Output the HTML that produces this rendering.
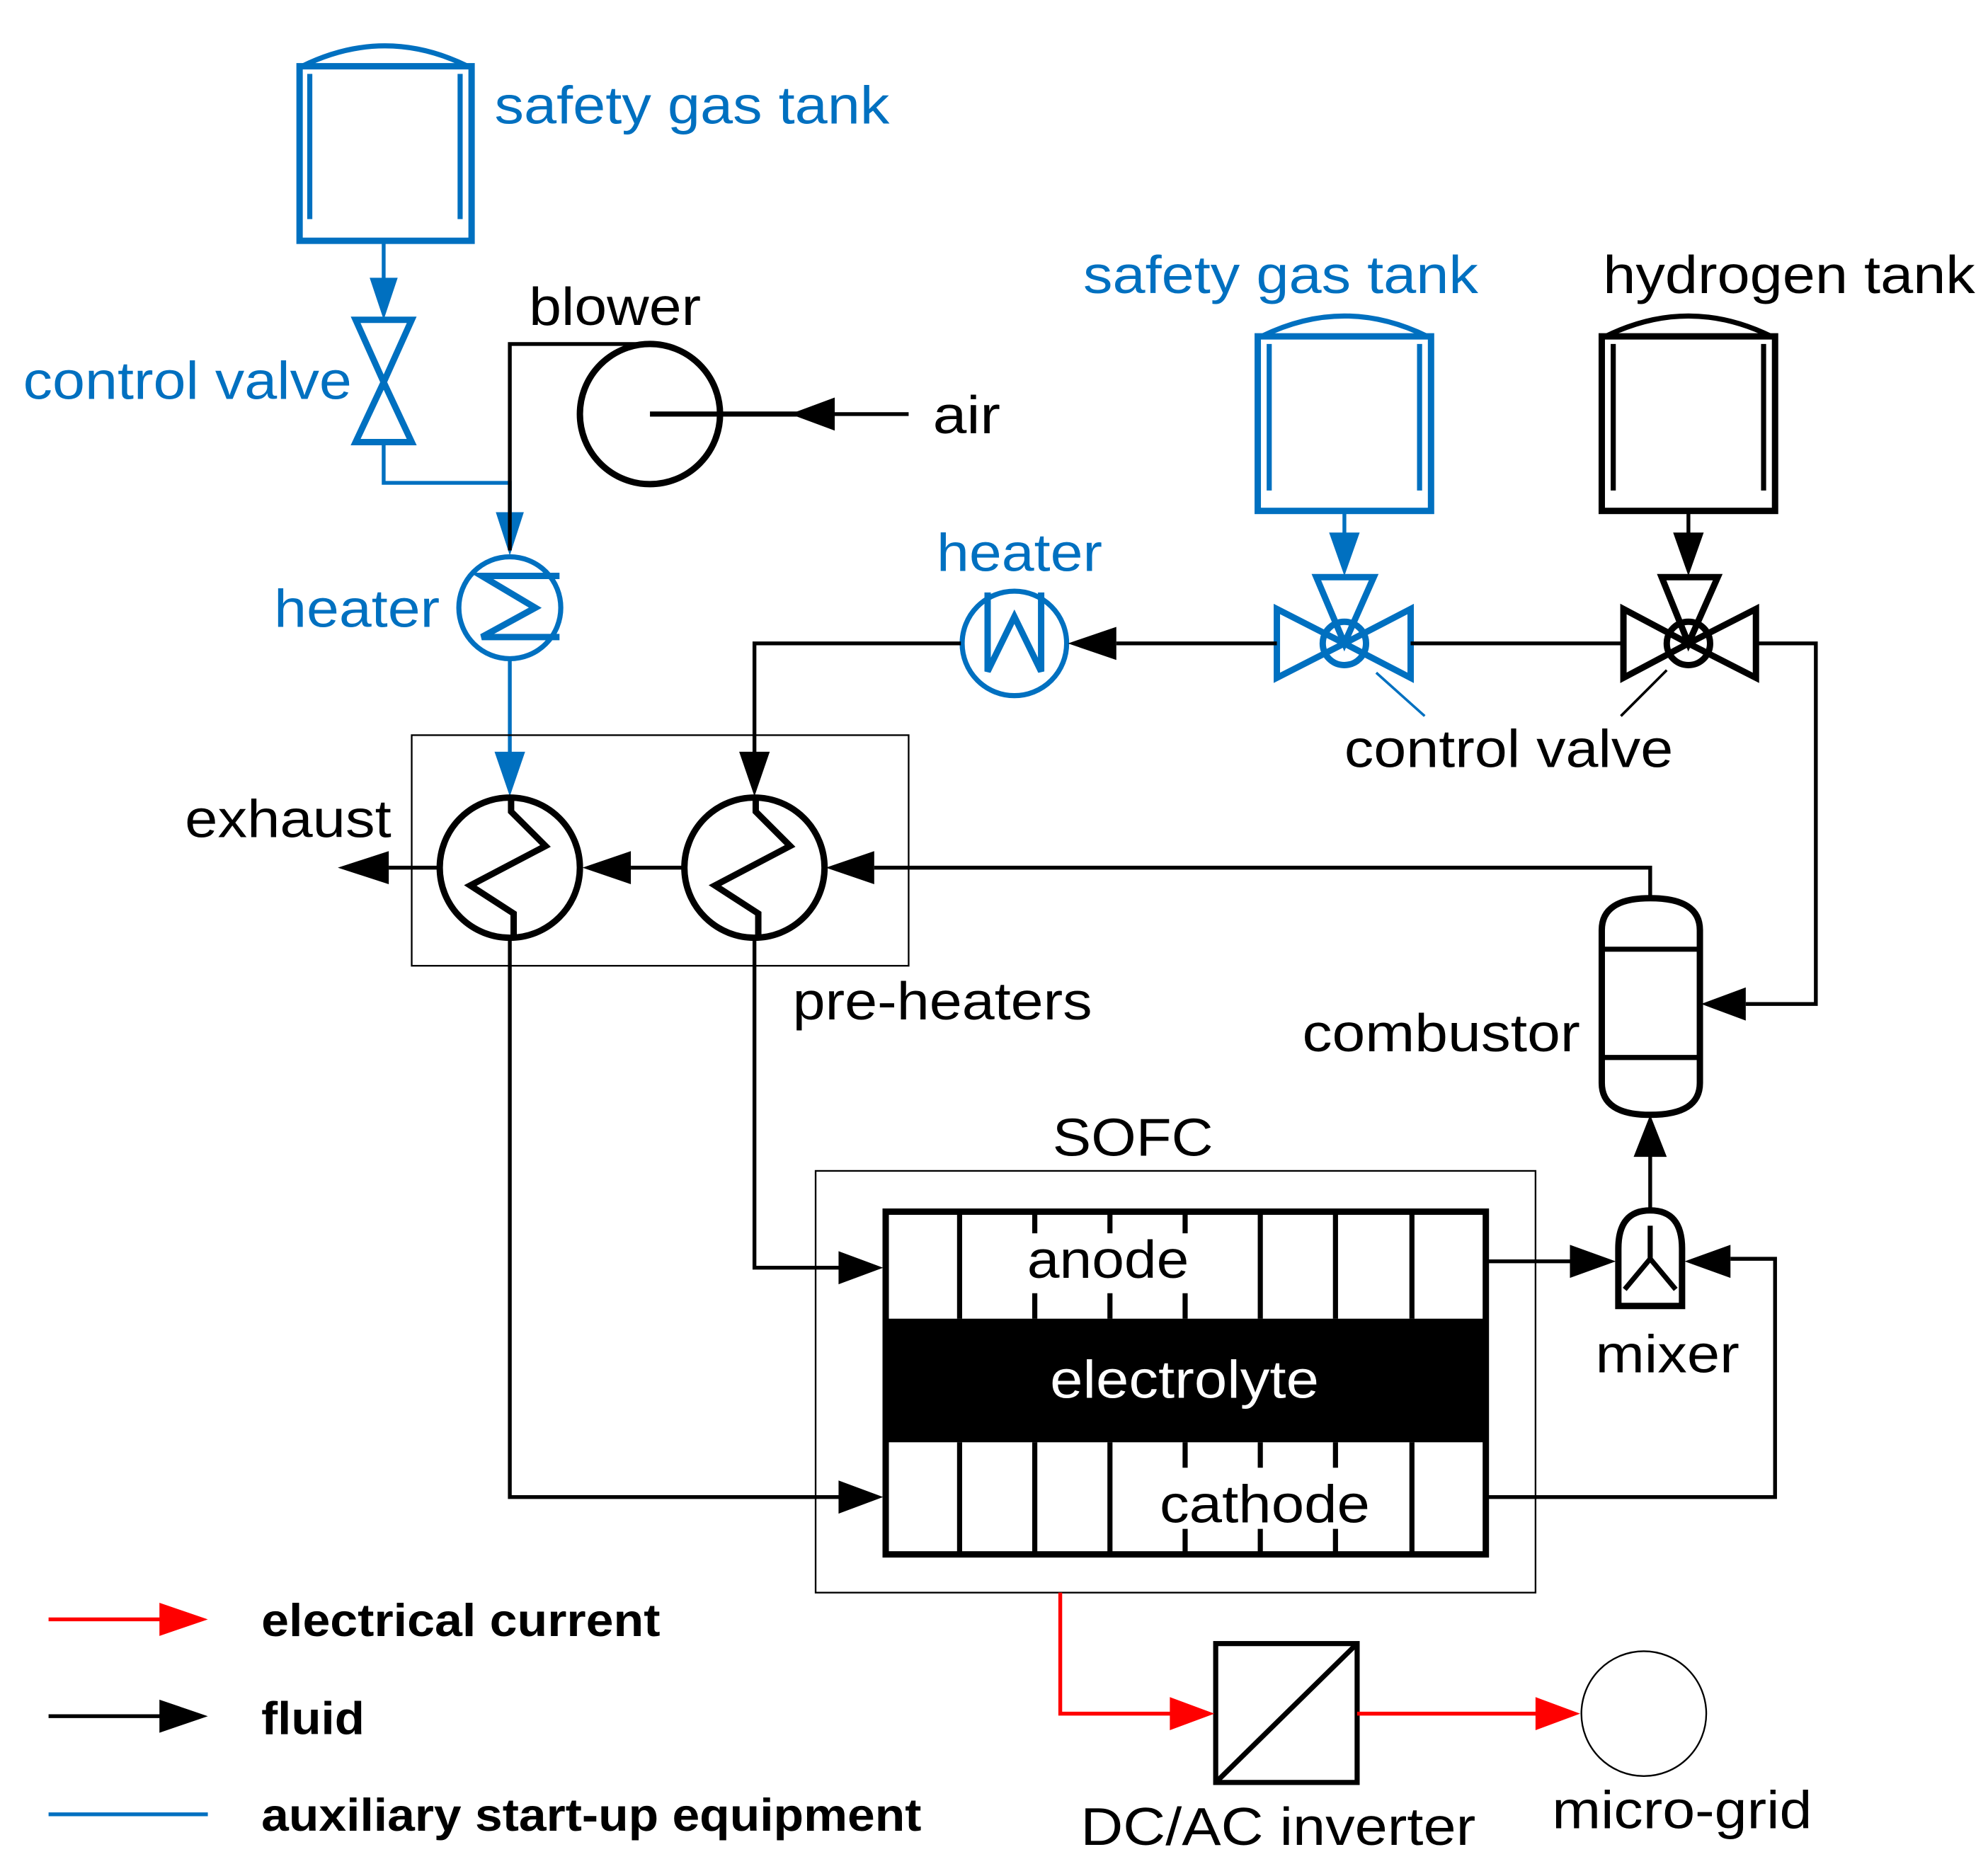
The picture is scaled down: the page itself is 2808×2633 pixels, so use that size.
<!DOCTYPE html>
<html><head><meta charset="utf-8"><style>html,body{margin:0;padding:0;background:#fff}svg{display:block}</style></head>
<body>
<svg xmlns="http://www.w3.org/2000/svg" width="2808" height="2633" viewBox="0 0 1560 1463" font-family="Liberation Sans, Arial, sans-serif">
<rect width="1560" height="1463" fill="#fff"/>
<g fill="none" stroke-linejoin="miter">
<!-- Safety tank 1 -->
<g stroke="#0070c0">
<rect x="235" y="52" width="135" height="137" stroke-width="5"/>
<path d="M237,52 Q302,20 367,52" stroke-width="4"/>
<line x1="243" y1="58" x2="243" y2="172" stroke-width="4"/>
<line x1="361" y1="58" x2="361" y2="172" stroke-width="4"/>
<line x1="301" y1="189" x2="301" y2="220" stroke-width="3"/>
<path d="M279,251 L323,251 L301,300 Z M279,347 L323,347 L301,300 Z" stroke-width="5"/>
<path d="M301,347 L301,379 L400,379 L400,402" stroke-width="3"/>
<circle cx="400" cy="477" r="40" stroke-width="4"/>
<path d="M439,452 L378,452 L420,477 L378,500 L439,500" stroke-width="5"/>
<line x1="400" y1="517" x2="400" y2="592" stroke-width="3"/>
<!-- heater 2 -->
<circle cx="796" cy="505" r="41" stroke-width="4"/>
<path d="M775,465 L775,527 L796,484 L817,527 L817,465" stroke-width="5"/>
<!-- safety tank 2 -->
<rect x="987" y="264" width="136" height="137" stroke-width="5"/>
<path d="M990,264 Q1055,232 1120,264" stroke-width="4"/>
<line x1="996" y1="270" x2="996" y2="385" stroke-width="4"/>
<line x1="1114" y1="270" x2="1114" y2="385" stroke-width="4"/>
<line x1="1055" y1="401" x2="1055" y2="420" stroke-width="3"/>
<path d="M1002,478 L1002,532 L1055,505 Z M1107,478 L1107,532 L1055,505 Z M1033,453 L1078,453 L1055,505 Z" stroke-width="5"/>
<circle cx="1055" cy="505" r="17" stroke-width="5"/>
<line x1="1080" y1="528" x2="1118" y2="562" stroke-width="2"/>
</g>
<g fill="#0070c0">
<polygon points="301,251 290,218 312,218"/>
<polygon points="400,436 389,402 411,402"/>
<polygon points="400,625 388,590 412,590"/>
<polygon points="1055,452 1043,418 1067,418"/>
</g>
<!-- black -->
<g stroke="#000">
<path d="M400,432 L400,270 L510,270" stroke-width="3"/>
<circle cx="510" cy="325" r="55" stroke-width="5"/>
<line x1="510" y1="325" x2="655" y2="325" stroke-width="4"/>
<line x1="655" y1="325" x2="713" y2="325" stroke-width="3"/>
<path d="M754,505 L592,505 L592,595" stroke-width="3"/>
<line x1="876" y1="505" x2="1002" y2="505" stroke-width="3"/>
<line x1="1107" y1="505" x2="1274" y2="505" stroke-width="3"/>
<!-- hydrogen tank -->
<rect x="1257" y="264" width="136" height="137" stroke-width="5"/>
<path d="M1260,264 Q1325,232 1390,264" stroke-width="4"/>
<line x1="1266" y1="270" x2="1266" y2="385" stroke-width="4"/>
<line x1="1384" y1="270" x2="1384" y2="385" stroke-width="4"/>
<line x1="1325" y1="401" x2="1325" y2="420" stroke-width="3"/>
<path d="M1274,478 L1274,532 L1325,505 Z M1378,478 L1378,532 L1325,505 Z M1304,453 L1348,453 L1325,505 Z" stroke-width="5"/>
<circle cx="1325" cy="505" r="17" stroke-width="5"/>
<line x1="1308" y1="526" x2="1272" y2="562" stroke-width="2"/>
<path d="M1378,505 L1425,505 L1425,788 L1370,788" stroke-width="3"/>
<!-- preheater box -->
<rect x="323" y="577" width="390" height="181" stroke-width="1.3"/>
<circle cx="400" cy="681" r="55" stroke-width="5"/>
<circle cx="592" cy="681" r="55" stroke-width="5"/>
<path d="M401,626 L401,637 L428,664 L369,695 L403,717 L403,737" stroke-width="5"/>
<path d="M593,626 L593,637 L620,664 L561,695 L595,717 L595,737" stroke-width="5"/>
<line x1="305" y1="681" x2="345" y2="681" stroke-width="3"/>
<line x1="495" y1="681" x2="537" y2="681" stroke-width="3"/>
<path d="M686,681 L1295,681 L1295,705" stroke-width="3"/>
<path d="M400,737 L400,1175 L660,1175" stroke-width="3"/>
<path d="M592,737 L592,995 L660,995" stroke-width="3"/>
<!-- combustor -->
<path d="M1257,730 Q1257,705 1295,705 Q1334,705 1334,730 L1334,850 Q1334,875 1295,875 Q1257,875 1257,850 Z" stroke-width="5"/>
<line x1="1257" y1="745" x2="1334" y2="745" stroke-width="4"/>
<line x1="1257" y1="830" x2="1334" y2="830" stroke-width="4"/>
<line x1="1295" y1="905" x2="1295" y2="950" stroke-width="3"/>
<!-- mixer -->
<path d="M1270,1025 L1270,980 Q1270,950 1295,950 Q1320,950 1320,980 L1320,1025 Z" stroke-width="5"/>
<path d="M1295,962 L1295,988 L1275,1012 M1295,988 L1315,1012" stroke-width="4"/>
<path d="M1166,990 L1235,990" stroke-width="3"/>
<path d="M1166,1175 L1393,1175 L1393,988 L1358,988" stroke-width="3"/>
<!-- SOFC -->
<rect x="640" y="919" width="565" height="331" stroke-width="1.3"/>
<rect x="695" y="951" width="471" height="269" stroke-width="5"/>
<g stroke-width="4">
<path d="M753,951 V1035 M989,951 V1035 M1048,951 V1035 M1108,951 V1035"/>
<path d="M812,951 V968 M871,951 V968 M930,951 V968 M812,1015 V1035 M871,1015 V1035 M930,1015 V1035"/>
<path d="M753,1132 V1220 M812,1132 V1220 M871,1132 V1220 M1108,1132 V1220"/>
<path d="M930,1132 V1152 M989,1132 V1152 M1048,1132 V1152 M930,1200 V1220 M989,1200 V1220 M1048,1200 V1220"/>
</g>
<line x1="1206" y1="1345" x2="1065" y2="1345"/>
<rect x="954" y="1290" width="111" height="109" stroke-width="4"/>
<line x1="954" y1="1399" x2="1065" y2="1290" stroke-width="4"/>
<circle cx="1290" cy="1345" r="49" stroke-width="1.3"/>
<line x1="38" y1="1347" x2="130" y2="1347" stroke-width="3"/>
</g>
<g stroke="#ff0000" stroke-width="3">
<path d="M832,1250 L832,1345 L920,1345"/>
<line x1="1065" y1="1345" x2="1206" y2="1345"/>
<line x1="38" y1="1271" x2="130" y2="1271"/>
</g>
<line x1="38" y1="1424" x2="163" y2="1424" stroke="#0070c0" stroke-width="3"/>
</g>
<rect x="695" y="1035" width="471" height="97" fill="#000"/>
<g fill="#000">
<polygon points="620,325 655,312 655,338"/>
<polygon points="592,625 580,590 604,590"/>
<polygon points="838,505 876,492 876,518"/>
<polygon points="1325,452 1313,418 1337,418"/>
<polygon points="1335,788 1370,775 1370,801"/>
<polygon points="265,681 305,668 305,694"/>
<polygon points="457,681 495,668 495,694"/>
<polygon points="648,681 686,668 686,694"/>
<polygon points="1295,875 1282,908 1308,908"/>
<polygon points="693,995 658,982 658,1008"/>
<polygon points="693,1175 658,1162 658,1188"/>
<polygon points="1268,990 1232,977 1232,1003"/>
<polygon points="1322,990 1358,977 1358,1003"/>
<polygon points="163,1347 125,1334 125,1360"/>
</g>
<g fill="#ff0000">
<polygon points="953,1345 918,1332 918,1358"/>
<polygon points="1240,1345 1205,1332 1205,1358"/>
<polygon points="163,1271 125,1258 125,1284"/>
</g>
<g font-size="42" fill="#0070c0">
<text x="388" y="97" textLength="310" lengthAdjust="spacingAndGlyphs">safety gas tank</text>
<text x="18" y="313" textLength="258" lengthAdjust="spacingAndGlyphs">control valve</text>
<text x="215" y="492" textLength="130" lengthAdjust="spacingAndGlyphs">heater</text>
<text x="735" y="448" textLength="130" lengthAdjust="spacingAndGlyphs">heater</text>
<text x="850" y="230" textLength="310" lengthAdjust="spacingAndGlyphs">safety gas tank</text>
</g>
<g font-size="42" fill="#000">
<text x="415" y="255" textLength="135" lengthAdjust="spacingAndGlyphs">blower</text>
<text x="732" y="340" textLength="53" lengthAdjust="spacingAndGlyphs">air</text>
<text x="1258" y="230" textLength="292" lengthAdjust="spacingAndGlyphs">hydrogen tank</text>
<text x="1055" y="602" textLength="258" lengthAdjust="spacingAndGlyphs">control valve</text>
<text x="145" y="657" textLength="162" lengthAdjust="spacingAndGlyphs">exhaust</text>
<text x="622" y="800" textLength="235" lengthAdjust="spacingAndGlyphs">pre-heaters</text>
<text x="1022" y="825" textLength="218" lengthAdjust="spacingAndGlyphs">combustor</text>
<text x="826" y="907" textLength="126" lengthAdjust="spacingAndGlyphs">SOFC</text>
<text x="806" y="1003" textLength="127" lengthAdjust="spacingAndGlyphs">anode</text>
<text x="910" y="1195" textLength="165" lengthAdjust="spacingAndGlyphs">cathode</text>
<text x="1252" y="1077" textLength="113" lengthAdjust="spacingAndGlyphs">mixer</text>
<text x="848" y="1448" textLength="310" lengthAdjust="spacingAndGlyphs">DC/AC inverter</text>
<text x="1218" y="1435" textLength="204" lengthAdjust="spacingAndGlyphs">micro-grid</text>
</g>
<text x="824" y="1097" font-size="42" fill="#fff" textLength="211" lengthAdjust="spacingAndGlyphs">electrolyte</text>
<g font-size="36" font-weight="bold" fill="#000">
<text x="205" y="1284" textLength="313" lengthAdjust="spacingAndGlyphs">electrical current</text>
<text x="205" y="1361" textLength="81" lengthAdjust="spacingAndGlyphs">fluid</text>
<text x="205" y="1437" textLength="518" lengthAdjust="spacingAndGlyphs">auxiliary start-up equipment</text>
</g>
</svg>
</body></html>
